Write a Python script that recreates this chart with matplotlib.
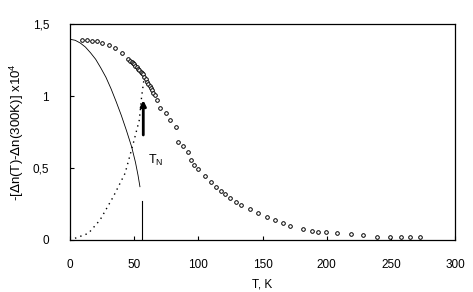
import matplotlib
matplotlib.use("Agg")
import matplotlib.pyplot as plt

plt.rcParams['font.family'] = ['Liberation Sans', 'DejaVu Sans']

# open-circle data
T_pts = [9, 13, 17, 21, 24.7, 30.6, 35, 40.8, 45.5,
         47, 48, 49, 50, 51, 52, 53, 54, 55, 56, 57, 58, 59, 60, 61, 62, 63, 64, 65, 66, 67.5,
         70, 74.8, 78, 82.6, 84.4, 88.3, 92.2, 94, 96.6, 100, 105, 110, 113.8, 117.4, 121,
         125, 129, 133.5, 140.3, 146.3, 153.3, 159.8, 165.8, 171.5, 181.3, 188.4, 193.5,
         199.5, 207.8, 219, 228, 239.5, 249, 258, 265, 272.8]
dn_pts = [1.39, 1.39, 1.385, 1.385, 1.37, 1.354, 1.33, 1.296, 1.255,
          1.245, 1.235, 1.228, 1.22, 1.21, 1.20, 1.19, 1.18, 1.17, 1.16, 1.15, 1.135, 1.12, 1.10,
          1.085, 1.07, 1.055, 1.04, 1.02, 1.005, 0.972,
          0.92, 0.88, 0.83, 0.787, 0.683, 0.653, 0.613, 0.556, 0.52, 0.49, 0.444, 0.405,
          0.366, 0.342, 0.32, 0.29, 0.266, 0.243, 0.213, 0.19, 0.157, 0.139, 0.12, 0.10,
          0.076, 0.065, 0.058, 0.053, 0.051, 0.04, 0.035, 0.023, 0.023, 0.023, 0.023, 0.023]

# falling thin line
T_fall = [0, 4, 8, 12, 16, 20, 24, 28, 32, 36, 40, 44, 48, 51, 53, 54.5]
dn_fall = [1.394, 1.387, 1.368, 1.34, 1.30, 1.255, 1.195, 1.13, 1.05, 0.96, 0.865, 0.76,
           0.648, 0.54, 0.45, 0.37]
T_drop = [55.8, 55.8]
dn_drop = [0.27, 0.0]

# rising dotted line
T_rise = [3.9, 14.3, 23.4, 33.7, 42.9, 49.3, 54, 55.8, 57.7]
dn_rise = [0.012, 0.046, 0.139, 0.30, 0.463, 0.671, 0.833, 0.995, 1.12]

x_ticks = [0, 50, 100, 150, 200, 250, 300]
y_ticks = [0, 0.5, 1, 1.5]
y_ticklabels = ['0', '0,5', '1', '1,5']

fig = plt.figure(figsize=(4.73, 2.92), dpi=100)
ax = fig.add_axes([70/473, 52/292, 385/473, 216/292])

ax.plot(T_fall, dn_fall, color='black', lw=0.6)
ax.plot(T_drop, dn_drop, color='black', lw=0.8)
ax.plot(T_rise, dn_rise, color='black', lw=1.0, linestyle=(0, (1, 3)))
ax.plot(T_pts, dn_pts, 'o', mfc='white', mec='black', ms=2.6, mew=0.7, ls='none')

ax.annotate('', xy=(57.1, 0.99), xytext=(57.1, 0.71),
            arrowprops=dict(arrowstyle='-|>', color='black', lw=2.0, mutation_scale=8))
ax.text(61, 0.555, r'T$_\mathregular{N}$', fontsize=9, ha='left', va='center')

ax.set_xlim(0, 300)
ax.set_ylim(0, 1.5)
ax.set_xticks(x_ticks)
ax.set_xticklabels([str(t) for t in x_ticks])
ax.set_yticks(y_ticks)
ax.set_yticklabels(y_ticklabels)
ax.tick_params(direction='in', length=3, labelsize=8.5, width=0.8)
ax.tick_params(axis='x', pad=14)
ax.tick_params(axis='y', pad=15)
for s in ax.spines.values():
    s.set_linewidth(0.9)

ax.set_xlabel('T, K', fontsize=8.5, labelpad=5)
ax.set_ylabel(r'-[$\Delta$n(T)-$\Delta$n(300K)] x10$^\mathregular{4}$', fontsize=9.5, labelpad=5)

fig.savefig('out.png', dpi=100)
